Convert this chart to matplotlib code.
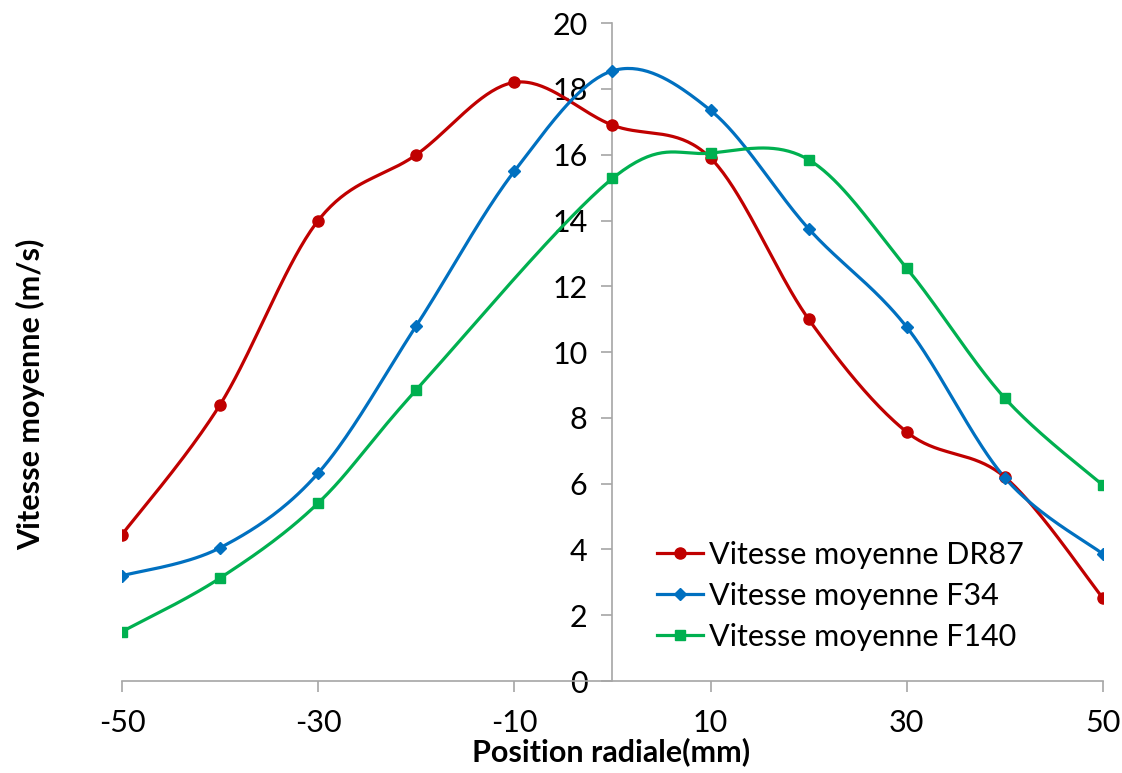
import numpy as np
import matplotlib.pyplot as plt

plt.rcParams['font.family'] = ['Lato', 'DejaVu Sans']
plt.rcParams['axes.unicode_minus'] = False

# Données
pos_dr87 = [-50, -40, -30, -20, -10, 0, 10, 20, 30, 40, 50]
v_dr87 = [4.45, 8.4, 14.0, 16.0, 18.2, 16.9, 15.9, 11.0, 7.57, 6.2, 2.52]

pos_f34 = [-50, -40, -30, -20, -10, 0, 10, 20, 30, 40, 50]
v_f34 = [3.2, 4.05, 6.32, 10.8, 15.5, 18.55, 17.35, 13.75, 10.76, 6.18, 3.86]

pos_f140 = [-50, -40, -30, -20, 0, 10, 20, 30, 40, 50]
v_f140 = [1.5, 3.13, 5.41, 8.85, 15.28, 16.05, 15.85, 12.55, 8.6, 5.95]

xticks = [-50, -30, -10, 10, 30, 50]
yticks = list(range(0, 21, 2))


def lisser(x, y, n=40):
    # courbe lissée type Excel (Catmull-Rom / Bézier)
    p = np.column_stack([x, y]).astype(float)
    p = np.vstack([p[0], p, p[-1]])
    t = np.linspace(0, 1, n)[:, None]
    out = []
    for i in range(1, len(p) - 2):
        b0 = p[i]
        b3 = p[i + 1]
        b1 = b0 + (p[i + 1] - p[i - 1]) / 6
        b2 = b3 - (p[i + 2] - p[i]) / 6
        seg = ((1 - t)**3 * b0 + 3 * (1 - t)**2 * t * b1
               + 3 * (1 - t) * t**2 * b2 + t**3 * b3)
        out.append(seg if i == 1 else seg[1:])
    out = np.vstack(out)
    return out[:, 0], out[:, 1]


fig = plt.figure(figsize=(11.22, 7.73), dpi=100)
ax = fig.add_axes([0.1087, 0.119, 0.8743, 0.851])

series = [
    (pos_dr87, v_dr87, '#C00000', 'o', 8, 'Vitesse moyenne DR87'),
    (pos_f34, v_f34, '#0070C0', 'D', 6.5, 'Vitesse moyenne F34'),
    (pos_f140, v_f140, '#00B050', 's', 7.5, 'Vitesse moyenne F140'),
]
for x, y, c, m, ms, lab in series:
    xs, ys = lisser(x, y)
    ax.plot(xs, ys, color=c, lw=2.3, zorder=3)
    ax.plot(x, y, ls='none', marker=m, ms=ms, color=c, zorder=4)
    ax.plot([], [], color=c, lw=2.3, marker=m, ms=ms, label=lab)

ax.set_xlim(-50, 50)
ax.set_ylim(0, 20)
ax.set_xticks(xticks)
ax.set_yticks(yticks)

for s in ['top', 'right']:
    ax.spines[s].set_visible(False)
ax.spines['left'].set_position(('data', 0))
for s in ['left', 'bottom']:
    ax.spines[s].set_color('#A6A6A6')
    ax.spines[s].set_linewidth(1.2)
ax.spines['left'].set_zorder(1)

ax.tick_params(axis='both', colors='#A6A6A6', labelcolor='black',
               labelsize=22, length=8, width=1.2, direction='out')
ax.tick_params(axis='x', pad=12)
ax.tick_params(axis='y', pad=10)

fig.text(0.545, 0.028, 'Position radiale(mm)', ha='center', va='center',
         fontsize=22, fontweight='bold')
fig.text(0.027, 0.49, 'Vitesse moyenne (m/s)', ha='center', va='center',
         rotation=90, fontsize=22, fontweight='bold')

ax.legend(loc='upper left', bbox_to_anchor=(0.572, 0.32),
          bbox_transform=fig.transFigure, frameon=False, fontsize=22,
          handlelength=1.5, handletextpad=0.2, labelspacing=0.42,
          borderpad=0)

fig.savefig('out.png', dpi=100)
